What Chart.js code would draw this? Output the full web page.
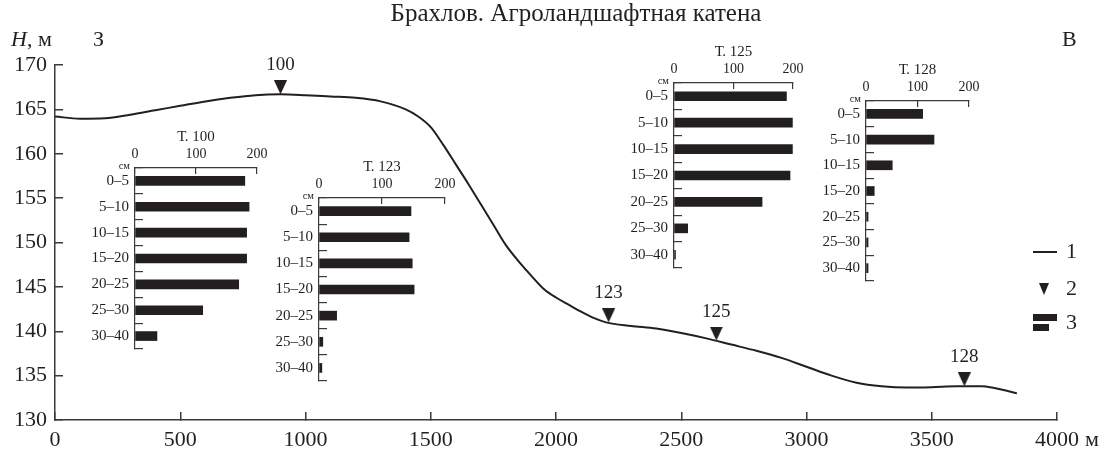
<!DOCTYPE html>
<html>
<head>
<meta charset="utf-8">
<script src="https://cdn.jsdelivr.net/npm/chart.js@4.4.1/dist/chart.umd.min.js"></script>
<style>
  html, body { margin: 0; padding: 0; background: #fff; }
  #wrap { position: relative; width: 1109px; height: 451px; overflow: hidden; background: #fff; }
  #wrap canvas { position: absolute; left: 0; top: 0; }
</style>
</head>
<body>
<div id="wrap"><canvas id="profile" width="1109" height="451"></canvas></div>
<script>
// Relief profile along the catena: distance (m) and elevation H (m)
const distance  = [0, 100, 200, 300, 400, 500, 600, 700, 800, 900,
                   1000, 1100, 1200, 1300, 1400, 1450, 1500, 1550, 1600, 1650,
                   1700, 1750, 1800, 1850, 1900, 1950, 2000, 2050, 2100, 2150,
                   2200, 2300, 2400, 2500, 2600, 2700, 2800, 2900, 3000, 3100,
                   3200, 3300, 3400, 3500, 3600, 3700, 3750, 3800, 3840];
const elevation = [164.2, 163.95, 164.0, 164.4, 164.9, 165.4, 165.9, 166.3, 166.6, 166.7,
                   166.6, 166.45, 166.3, 165.9, 165.0, 164.2, 163.0, 161.0, 158.8, 156.6,
                   154.3, 152.0, 149.7, 147.9, 146.3, 144.8, 143.8, 143.0, 142.2, 141.5,
                   141.0, 140.6, 140.3, 139.8, 139.2, 138.5, 137.8, 137.0, 136.0, 135.0,
                   134.2, 133.8, 133.65, 133.7, 133.8, 133.8, 133.6, 133.3, 133.0];

// Sampling points (stations) on the profile
const stationIds  = ['100', '123', '125', '128'];
const stationDist = [900, 2210, 2640, 3630];
const stationElev = [166.7, 141.0, 138.95, 133.8];

// Depth layers (cm) and per-station values for each layer
const depthLabels = ['0–5', '5–10', '10–15', '15–20', '20–25', '25–30', '30–40'];
const valuesT100  = [180, 187, 183, 183, 170, 111, 36];
const valuesT123  = [146, 143, 148, 151, 28, 6, 4.5];
const valuesT125  = [189, 199, 199, 195, 148, 23, 2.5];
const valuesT128  = [110, 132, 51, 16, 4, 4, 4];

const SERIF = '"Liberation Serif", "DejaVu Serif", "Times New Roman", serif';
const INK = '#231f20';
const AXIS = '#3a3a3a';

Chart.defaults.font.family = SERIF;
Chart.defaults.color = INK;

// Downward triangle sprite whose tip sits at the sprite centre
function triangleSprite(w, h) {
  const c = document.createElement('canvas');
  c.width = w; c.height = h * 2;
  const g = c.getContext('2d');
  g.fillStyle = INK;
  g.beginPath();
  g.moveTo(0, 0); g.lineTo(w, 0); g.lineTo(w / 2, h); g.closePath();
  g.fill();
  return c;
}

const profilePoints = distance.map((d, i) => ({ x: d, y: elevation[i] }));
const stationPoints = stationDist.map((d, i) => ({ x: d, y: stationElev[i] }));

const profileText = {
  id: 'profileText',
  afterDatasetsDraw(chart) {
    const ctx = chart.ctx;
    const meta = chart.getDatasetMeta(1);
    ctx.save();
    ctx.fillStyle = INK;
    ctx.font = '19px ' + SERIF;
    ctx.textAlign = 'center';
    ctx.textBaseline = 'middle';
    meta.data.forEach((pt, i) => ctx.fillText(stationIds[i], pt.x, pt.y - 29));
    ctx.restore();
  },
  afterDraw(chart) {
    const ctx = chart.ctx;
    const xs = chart.scales.x;
    ctx.save();
    ctx.fillStyle = INK;
    ctx.textBaseline = 'middle';

    // title
    ctx.font = '25px ' + SERIF;
    ctx.textAlign = 'center';
    ctx.fillText('Брахлов. Агроландшафтная катена', 576, 14);

    // axis name H, м and the cardinal directions
    ctx.textAlign = 'left';
    ctx.font = 'italic 22px ' + SERIF;
    ctx.fillText('H', 11, 40);
    const hw = ctx.measureText('H').width;
    ctx.font = '22px ' + SERIF;
    ctx.fillText(', м', 11 + hw, 40);
    ctx.fillText('З', 93, 40);
    ctx.fillText('В', 1062, 40);

    // unit after the last distance tick
    const last = xs.getPixelForValue(4000);
    ctx.fillText('м', last + ctx.measureText('4000').width / 2 + 6, 440);

    // legend
    ctx.strokeStyle = INK;
    ctx.lineWidth = 2;
    ctx.beginPath(); ctx.moveTo(1033, 252); ctx.lineTo(1057, 252); ctx.stroke();
    ctx.beginPath(); ctx.moveTo(1039, 283); ctx.lineTo(1049, 283); ctx.lineTo(1044, 295); ctx.closePath(); ctx.fill();
    ctx.fillRect(1033, 314, 24, 7);
    ctx.fillRect(1033, 324, 16, 7);
    ctx.fillText('1', 1066, 252);
    ctx.fillText('2', 1066, 289);
    ctx.fillText('3', 1066, 323);
    ctx.restore();
  }
};

new Chart(document.getElementById('profile'), {
  type: 'line',
  data: {
    datasets: [
      { data: profilePoints, borderColor: INK, borderWidth: 2, pointRadius: 0,
        cubicInterpolationMode: 'monotone', fill: false },
      { type: 'scatter', data: stationPoints, pointStyle: triangleSprite(13, 14),
        pointRadius: 7, showLine: false }
    ]
  },
  options: {
    responsive: false, animation: false, devicePixelRatio: 1,
    layout: { padding: { left: 0, top: 65, right: 52, bottom: 0 } },
    plugins: { legend: { display: false }, tooltip: { enabled: false } },
    scales: {
      x: {
        type: 'linear', min: 0, max: 4000,
        ticks: { stepSize: 500, font: { size: 22 }, padding: 15, maxRotation: 0, autoSkip: false,
                 callback: v => String(v) },
        grid: { drawOnChartArea: false, tickLength: -8, color: AXIS, lineWidth: 1.5 },
        border: { color: AXIS, width: 1.5 },
        afterFit(s) { s.height = 31; }
      },
      y: {
        min: 130, max: 170,
        ticks: { stepSize: 5, font: { size: 22 }, padding: 16, callback: v => String(v) },
        grid: { drawOnChartArea: false, tickLength: -8, color: AXIS, lineWidth: 1.5 },
        border: { color: AXIS, width: 1.5 },
        afterFit(s) { s.width = 55; }
      }
    }
  },
  plugins: [profileText]
});

// Inset bar charts: plot-area frames in page pixels
const insetFrames = [
  { left: 135, top: 168, right: 257, bottom: 368 },
  { left: 319, top: 198, right: 445, bottom: 400 },
  { left: 674, top: 83,  right: 793, bottom: 287 },
  { left: 866, top: 101, right: 969, bottom: 300 }
];
const insetTitles = ['Т. 100', 'Т. 123', 'Т. 125', 'Т. 128'];
const insetValues = [valuesT100, valuesT123, valuesT125, valuesT128];

function insetText(title) {
  return {
    id: 'insetText',
    afterDraw(chart) {
      const ctx = chart.ctx, area = chart.chartArea;
      ctx.save();
      ctx.fillStyle = INK;
      ctx.textBaseline = 'middle';
      ctx.textAlign = 'center';
      ctx.font = '15px ' + SERIF;
      ctx.fillText(title, chart.scales.x.getPixelForValue(100), area.top - 31);
      ctx.textAlign = 'right';
      ctx.font = '10.5px ' + SERIF;
      ctx.fillText('см', area.left - 5, area.top - 2);
      ctx.restore();
    }
  };
}

const wrap = document.getElementById('wrap');
insetFrames.forEach((f, k) => {
  const pad = { l: 52, t: 46, r: 22, b: 4 };
  const cv = document.createElement('canvas');
  cv.width = f.right - f.left + pad.l + pad.r;
  cv.height = f.bottom - f.top + pad.t + pad.b;
  cv.style.left = (f.left - pad.l) + 'px';
  cv.style.top = (f.top - pad.t) + 'px';
  wrap.appendChild(cv);
  new Chart(cv, {
    type: 'bar',
    data: {
      labels: depthLabels,
      datasets: [{ data: insetValues[k], backgroundColor: INK, barThickness: 9, borderWidth: 0 }]
    },
    options: {
      indexAxis: 'y', responsive: false, animation: false, devicePixelRatio: 1,
      layout: { padding: { left: 0, top: 0, right: pad.r, bottom: pad.b } },
      plugins: { legend: { display: false }, tooltip: { enabled: false } },
      scales: {
        x: {
          position: 'top', min: 0, max: 200,
          ticks: { stepSize: 100, font: { size: 14 }, padding: 11, maxRotation: 0 },
          grid: { drawOnChartArea: false, tickLength: -6, color: AXIS, lineWidth: 1.2 },
          border: { color: AXIS, width: 1.2 },
          afterFit(s) { s.height = pad.t; }
        },
        y: {
          offset: true,
          ticks: { font: { size: 15 }, padding: 14 },
          grid: { drawOnChartArea: false, offset: true, tickLength: -8, color: AXIS, lineWidth: 1.2 },
          border: { color: AXIS, width: 1.2 },
          afterFit(s) { s.width = pad.l; }
        }
      }
    },
    plugins: [insetText(insetTitles[k])]
  });
});
</script>
</body>
</html>
